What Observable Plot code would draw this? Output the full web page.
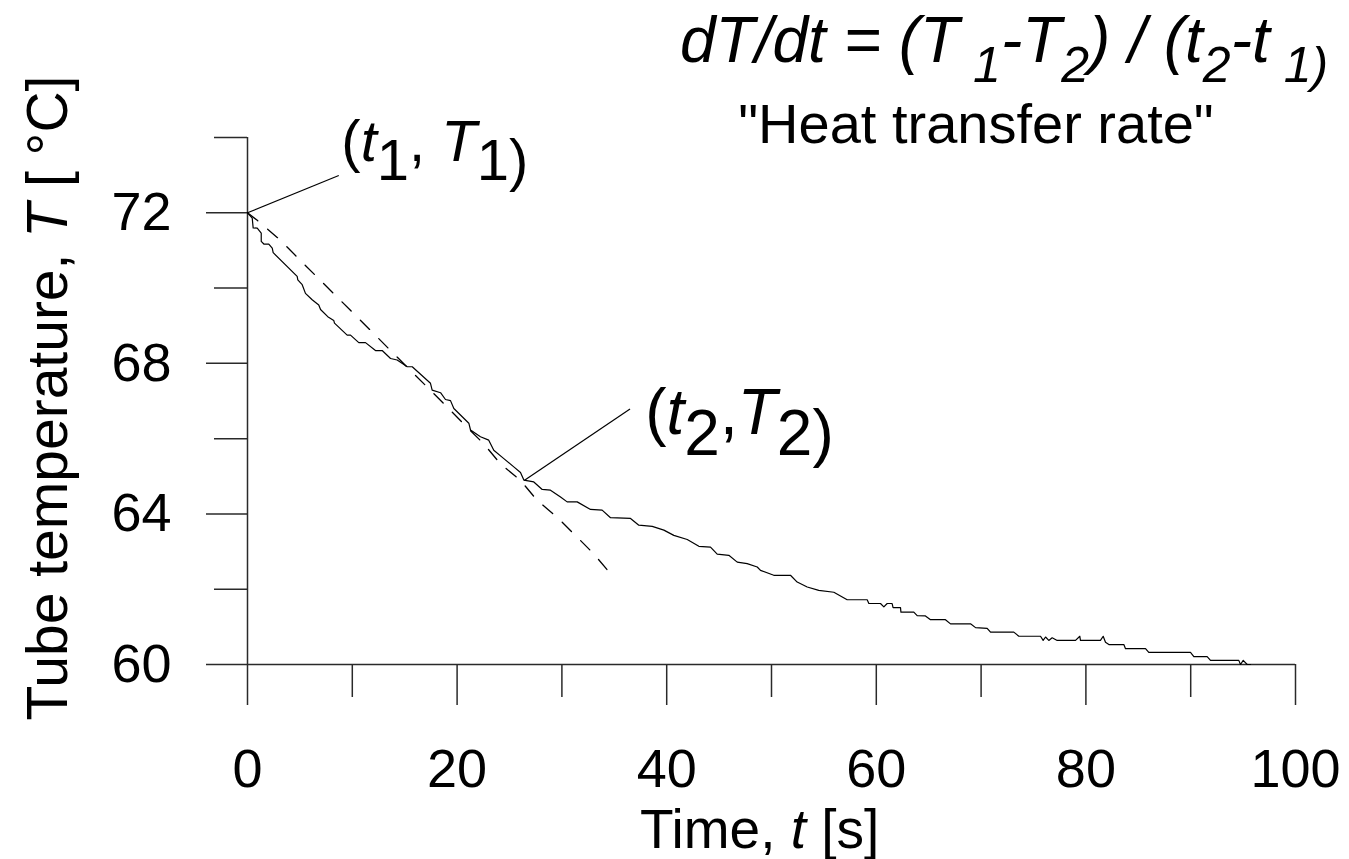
<!DOCTYPE html>
<html>
<head>
<meta charset="utf-8">
<script src="https://cdn.jsdelivr.net/npm/d3@7"></script>
<script src="https://cdn.jsdelivr.net/npm/@observablehq/plot@0.6"></script>
<style>
  html, body { margin: 0; padding: 0; background: #fff; }
  svg { display: block; }
</style>
</head>
<body>
<div id="chart"></div>
<script>
// ---- Measured tube temperature (solid line) ----
const timeS = [0, 0.45, 0.54, 0.93, 1.31, 1.31, 1.56, 2.03, 2.36, 2.45, 4.74, 4.80, 5.22, 5.53, 6.17, 6.80, 6.97, 7.66, 8.23, 8.30,
  9.51, 9.83, 10.62, 11.26, 12.21, 12.85, 13.65, 14.28, 15.24, 15.72, 17.46, 17.62, 18.42, 18.89, 19.37, 19.69, 21.12, 21.28, 22.23, 23.02,
  23.50, 24.46, 25.41, 26.05, 26.37, 27.32, 28.12, 28.91, 29.87, 30.50, 31.46, 32.73, 33.84, 34.64, 36.55, 37.34, 38.62, 39.73, 40.68, 41.96,
  43.07, 44.18, 44.82, 45.93, 46.73, 47.68, 48.64, 48.95, 50.22, 51.81, 52.45, 53.41, 54.51, 55.95, 57.22, 59.13, 59.29, 60.40, 60.72, 61.04,
  61.51, 61.60, 62.31, 62.35, 63.58, 63.90, 64.69, 65.17, 66.60, 67.08, 68.99, 69.47, 70.58, 70.90, 73.12, 73.60, 75.67, 75.92, 76.15, 76.46,
  76.78, 77.26, 79.01, 79.42, 79.48, 81.39, 81.65, 81.87, 82.19, 83.62, 83.78, 85.69, 86.00, 89.98, 90.30, 91.57, 91.89, 94.59, 94.75, 95.01,
  95.39, 95.71];
const tempC = [72.00, 71.86, 71.60, 71.59, 71.46, 71.24, 71.17, 71.17, 71.06, 70.94, 70.31, 70.22, 70.09, 69.86, 69.69, 69.55, 69.43, 69.24, 69.14, 69.07,
  68.75, 68.75, 68.55, 68.55, 68.34, 68.34, 68.13, 68.09, 67.91, 67.91, 67.47, 67.29, 67.22, 67.04, 67.01, 66.80, 66.41, 66.23, 66.05, 65.96,
  65.69, 65.47, 65.25, 65.10, 64.90, 64.85, 64.65, 64.63, 64.45, 64.32, 64.32, 64.12, 64.10, 63.90, 63.88, 63.70, 63.67, 63.57, 63.43, 63.32,
  63.14, 63.12, 62.93, 62.90, 62.72, 62.68, 62.59, 62.50, 62.37, 62.37, 62.19, 62.06, 61.97, 61.92, 61.72, 61.72, 61.62, 61.62, 61.53, 61.62,
  61.62, 61.51, 61.51, 61.39, 61.39, 61.30, 61.29, 61.19, 61.19, 61.08, 61.08, 60.98, 60.96, 60.86, 60.86, 60.75, 60.75, 60.64, 60.73, 60.64,
  60.71, 60.64, 60.64, 60.75, 60.64, 60.64, 60.75, 60.59, 60.53, 60.53, 60.42, 60.42, 60.32, 60.32, 60.21, 60.21, 60.11, 60.11, 60.00, 60.11,
  60.00, 60.00];

// ---- Initial-slope trend (dashed line) ----
const fitTime = [0, 0.93, 3.15, 5.06, 6.65, 8.56, 10.14, 12.05, 13.65, 17.15, 19.06, 20.64, 22.55, 24.14, 26.05, 27.64, 29.55, 31.14, 33.04, 34.64];
const fitTemp = [72.00, 71.80, 71.27, 70.73, 70.29, 69.76, 69.32, 68.79, 68.34, 67.37, 66.84, 66.39, 65.86, 65.33, 64.89, 64.36, 63.91, 63.47, 62.94, 62.41];

// ---- Axis ticks ----
const xMajorTicks = [0, 20, 40, 60, 80, 100];
const xMinorTicks = [10, 30, 50, 70, 90];
const yMajorTicks = [60, 64, 68, 72];
const yMinorTicks = [62, 66, 70, 74];

// ---- Annotations: leader lines (from point to label) and label anchors ----
const leaderFromT = [0, 26.4];
const leaderFromTemp = [72.0, 64.89];
const leaderToT = [8.71, 36.5];
const leaderToTemp = [72.99, 66.79];
const labelT = [9.0, 38.0];
const labelTemp = [73.36, 66.12];

const FONT = "'Liberation Sans', Arial, Helvetica, sans-serif";

const measured = timeS.map((t, i) => ({t, T: tempC[i]}));
const fit = fitTime.map((t, i) => ({t, T: fitTemp[i]}));
const leaders = leaderFromT.map((t, i) => ({x1: t, y1: leaderFromTemp[i], x2: leaderToT[i], y2: leaderToTemp[i]}));

const axisStroke = "#2a2a2a";
const plot = Plot.plot({
  width: 1349,
  height: 859,
  marginLeft: 247,
  marginRight: 54,
  marginTop: 137,
  marginBottom: 195,
  style: {fontFamily: FONT, fontSize: "54px", background: "#fff", color: "#000", overflow: "visible"},
  x: {domain: [0, 100], label: null},
  y: {domain: [60, 74], label: null},
  marks: [
    Plot.axisX({ticks: xMinorTicks, tickSize: 33, tickFormat: () => "", label: null, stroke: axisStroke, strokeWidth: 1.5}),
    Plot.axisX({ticks: xMajorTicks, tickSize: 41, tickPadding: 43, fontSize: 54, label: null, stroke: axisStroke, strokeWidth: 1.5}),
    Plot.axisY({ticks: yMinorTicks, tickSize: 33, tickFormat: () => "", label: null, stroke: axisStroke, strokeWidth: 1.5}),
    Plot.axisY({ticks: yMajorTicks, tickSize: 41, tickPadding: 35, fontSize: 54, label: null, stroke: axisStroke, strokeWidth: 1.5}),
    Plot.ruleX([0], {stroke: axisStroke, strokeWidth: 1.5}),
    Plot.ruleY([60], {stroke: axisStroke, strokeWidth: 1.5}),
    Plot.line(fit, {x: "t", y: "T", stroke: "#000", strokeWidth: 1.3, strokeDasharray: "13,13"}),
    Plot.line(measured, {x: "t", y: "T", stroke: "#000", strokeWidth: 1.2}),
    Plot.link(leaders, {x1: "x1", y1: "y1", x2: "x2", y2: "y2", stroke: "#000", strokeWidth: 1.2})
  ]
});

document.getElementById("chart").appendChild(plot);

const svg = d3.select(plot);
const sx = plot.scale("x"), sy = plot.scale("y");

function addRich(sel, parts) {
  parts.forEach(p => {
    const ts = sel.append("tspan").text(p.text);
    if (p.italic) ts.attr("font-style", "italic");
    if (p.size) ts.attr("font-size", p.size);
    if (p.dy) ts.attr("dy", p.dy);
  });
}

// Title formula
const title = svg.append("text").attr("x", 680).attr("y", 62).attr("text-anchor", "start")
  .attr("font-family", FONT).attr("font-size", 64).attr("font-style", "italic").attr("fill", "#000");
addRich(title, [
  {text: "dT/dt = (T"},
  {text: " 1", size: 50, dy: 20},
  {text: "-T", dy: -20},
  {text: "2", size: 50, dy: 20},
  {text: ") / (t", dy: -20},
  {text: "2", size: 50, dy: 20},
  {text: "-t", dy: -20},
  {text: " 1)", size: 50, dy: 20}
]);

// Subtitle
svg.append("text").attr("x", 976).attr("y", 143).attr("text-anchor", "middle")
  .attr("font-family", FONT).attr("font-size", 56).attr("fill", "#000")
  .text("\"Heat transfer rate\"");

// Y axis label
const yl = svg.append("text").attr("transform", "translate(67,398) rotate(-90)").attr("text-anchor", "middle")
  .attr("font-family", FONT).attr("font-size", 57).attr("fill", "#000");
addRich(yl, [{text: "Tube temperature, "}, {text: "T", italic: true}, {text: " [ °C]"}]);

// X axis label
const xl = svg.append("text").attr("x", 640).attr("y", 848).attr("text-anchor", "start")
  .attr("font-family", FONT).attr("font-size", 55).attr("fill", "#000");
addRich(xl, [{text: "Time, "}, {text: "t", italic: true}, {text: " [s]"}]);

// Point labels
const l1 = svg.append("text").attr("x", sx.apply(labelT[0])).attr("y", sy.apply(labelTemp[0])).attr("text-anchor", "start")
  .attr("font-family", FONT).attr("font-size", 58).attr("fill", "#000");
addRich(l1, [
  {text: "("},
  {text: "t", italic: true},
  {text: "1", dy: 19},
  {text: ", ", dy: -19},
  {text: "T", italic: true},
  {text: "1)", dy: 19}
]);

const l2 = svg.append("text").attr("x", sx.apply(labelT[1])).attr("y", sy.apply(labelTemp[1])).attr("text-anchor", "start")
  .attr("font-family", FONT).attr("font-size", 64).attr("fill", "#000");
addRich(l2, [
  {text: "("},
  {text: "t", italic: true},
  {text: "2", dy: 21},
  {text: ",", dy: -21},
  {text: "T", italic: true},
  {text: "2)", dy: 21}
]);
</script>
</body>
</html>
